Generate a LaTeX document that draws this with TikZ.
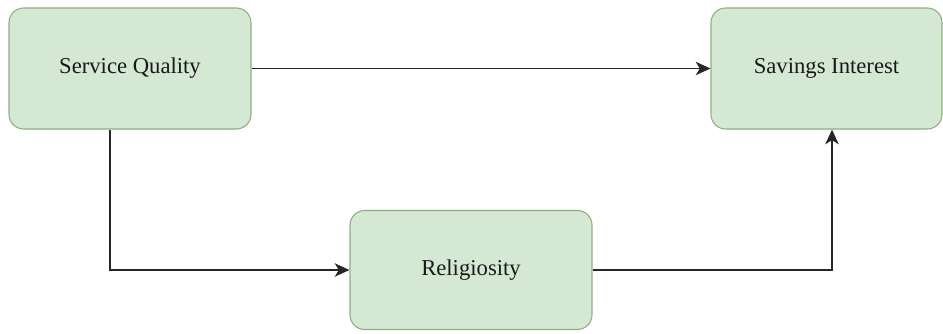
\documentclass[tikz,border=0pt]{standalone}
\usepackage{fontspec}
\setmainfont{Liberation Serif}
\usetikzlibrary{arrows.meta}
\usetikzlibrary{positioning}

\definecolor{boxfill}{HTML}{D5E8D4}
\definecolor{boxline}{HTML}{8FAE7F}

\begin{document}
\begin{tikzpicture}[x=0.75pt,y=-0.75pt]
				\tikzstyle{varbox}=[rectangle,rounded corners=11pt,draw=boxline,line width=0.8pt,fill=boxfill,minimum height=90.75pt,font=\fontsize{17pt}{20pt}\selectfont,text=black!90]
				\tikzstyle{link}=[draw=black!85,line width=1.3pt,-{Stealth[length=11pt,width=10pt,inset=3pt]}]
				\useasboundingbox (0,0) rectangle (943,333);
				\node[varbox,minimum width=181.5pt] (quality) at (130,68.5) {Service Quality};
				\node[varbox,minimum width=173.25pt] (interest) at (826.5,68.5) {Savings Interest};
				\node[varbox,minimum width=181.5pt,minimum height=89.25pt] (relig) at (471,270) {Religiosity};
				\coordinate (bendA) at (110,270);
				\coordinate (bendB) at (832,270);
				\draw[link] (quality.east) -- (interest.west);
				\draw[link] (bendA |- quality.south) -- (bendA) -- (relig.west);
				\draw[link] (relig.east) -- (bendB) -- (bendB |- interest.south);
\end{tikzpicture}
\end{document}
